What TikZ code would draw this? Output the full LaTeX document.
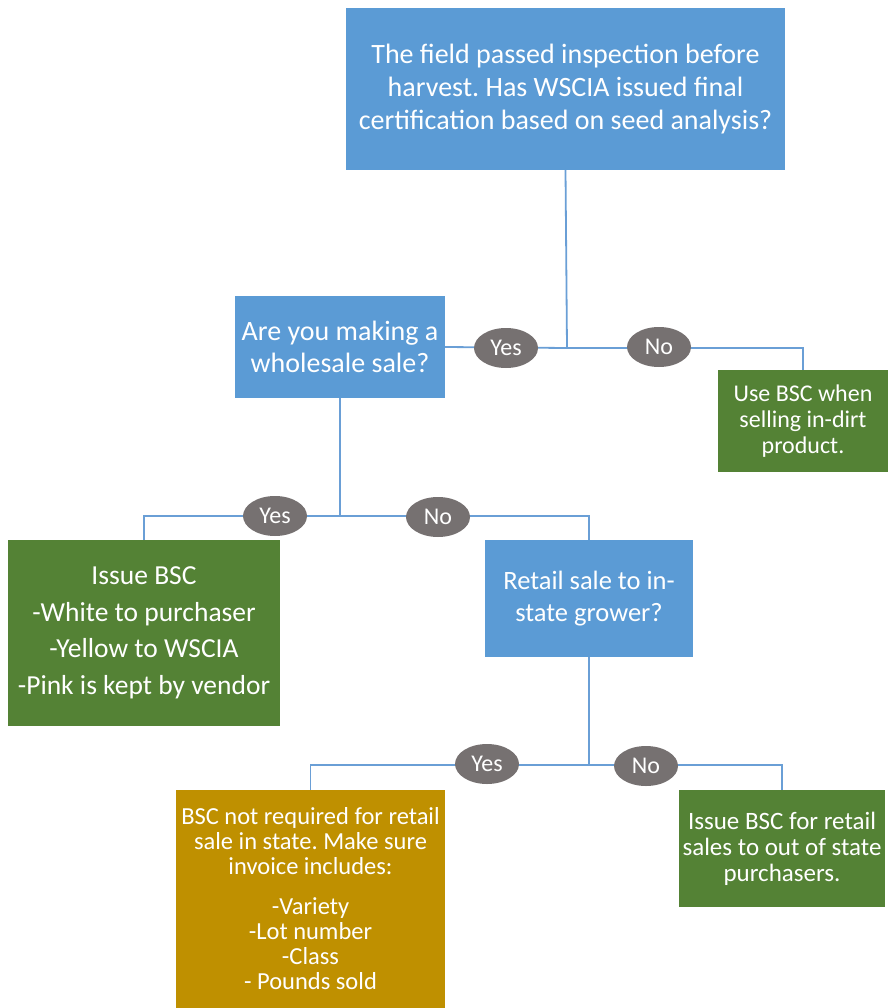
\documentclass[tikz,border=0pt]{standalone}
\usepackage{fontspec}
\setmainfont{Carlito}
\frenchspacing
\usetikzlibrary{shapes.geometric}
\definecolor{cblue}{HTML}{5B9BD5}
\definecolor{cgreen}{HTML}{548235}
\definecolor{cgold}{HTML}{BF9000}
\definecolor{cgray}{HTML}{767171}
\definecolor{cline}{HTML}{6A9FD6}
\tikzset{
  box/.style={rectangle, text=white, align=center, inner sep=0pt},
  bluebox/.style={box, fill=cblue},
  greenbox/.style={box, fill=cgreen},
  goldbox/.style={box, fill=cgold},
  pill/.style={ellipse, fill=cgray, text=white, minimum width=64pt, minimum height=40pt, inner sep=0pt, font=\fontsize{24}{26}\selectfont},
  conn/.style={draw=cline, line width=1.8pt},
}
\begin{document}
\begin{tikzpicture}[x=1pt,y=-1pt]
\useasboundingbox (0,0) rectangle (893,1008);
% boxes
\node[bluebox, minimum width=439pt, minimum height=162pt, font=\fontsize{28}{33}\selectfont] (q1) at (565.5,89)
  {The field passed inspection before\\harvest. Has WSCIA issued final\\certification based on seed analysis?};
\node[bluebox, minimum width=210pt, minimum height=102pt, font=\fontsize{28}{32}\selectfont] (q2) at (340,347)
  {Are you making a\\wholesale sale?};
\node[greenbox, minimum width=170pt, minimum height=102pt, font=\fontsize{24}{26}\selectfont] (g1) at (803,421)
  {Use BSC when\\selling in-dirt\\product.};
\node[greenbox, minimum width=272pt, minimum height=186pt, font=\fontsize{27.5}{36.5}\selectfont] (g2) at (144,633)
  {Issue BSC\\-White to purchaser\\-Yellow to WSCIA\\-Pink is kept by vendor};
\node[bluebox, minimum width=208pt, minimum height=117pt, font=\fontsize{26.5}{32}\selectfont] (q3) at (589,598.5)
  {Retail sale to in-\\state grower?};
\node[goldbox, minimum width=269pt, minimum height=218pt, font=\fontsize{24.5}{25}\selectfont] (y1) at (310.5,899)
  {BSC not required for retail\\sale in state. Make sure\\invoice includes:\\[15pt]-Variety\\-Lot number\\-Class\\- Pounds sold};
\node[greenbox, minimum width=206pt, minimum height=117pt, font=\fontsize{25}{26}\selectfont] (g3) at (782,848.5)
  {Issue BSC for retail\\sales to out of state\\purchasers.};
% junctions
\coordinate (j1) at (567,348);
\coordinate (j2) at (340,516);
\coordinate (j3) at (589,765);
% connectors
\draw[conn] (q1.south) -- (j1);
\draw[conn] (q2.east) -- (j1);
\draw[conn] (j1) -| (g1.north);
\draw[conn] (q2.south) -- (j2);
\draw[conn] (j2) -| (g2.north);
\draw[conn] (j2) -| (q3.north);
\draw[conn] (q3.south) -- (j3);
\draw[conn] (j3) -| (y1.north);
\draw[conn] (j3) -| (g3.north);
% labels
\node[pill] (yes1) at (506,348) {Yes};
\node[pill] (no1) at (659,347) {No};
\node[pill] (yes2) at (275,516) {Yes};
\node[pill] (no2) at (438,517) {No};
\node[pill] (yes3) at (487,764) {Yes};
\node[pill] (no3) at (646,766) {No};
\end{tikzpicture}
\end{document}
